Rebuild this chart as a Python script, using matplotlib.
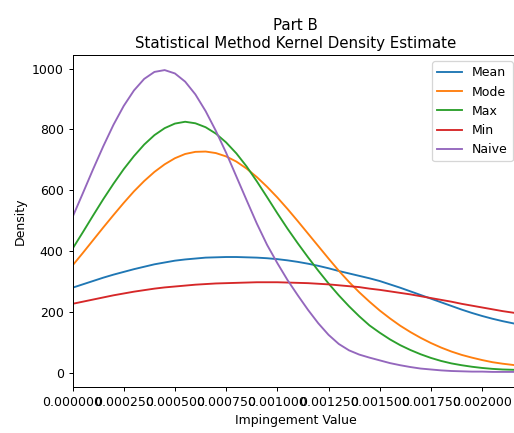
import matplotlib
matplotlib.use('Agg')
import matplotlib.pyplot as plt
from matplotlib.ticker import FormatStrFormatter

# impingement grid, step 0.00005
impingement = [i * 0.00005 for i in range(45)]

mean_density = [279, 290, 301, 312, 322, 331, 340, 348, 356, 362,
                368, 372, 375, 378, 379, 380, 380, 379, 378, 376,
                373, 369, 364, 358, 351, 343, 334, 326, 318, 310,
                301, 290, 279, 267, 255, 243, 231, 219, 207, 196,
                186, 177, 169, 162, 155]
mode_density = [352, 393, 435, 477, 518, 558, 596, 630, 660, 685,
                705, 719, 726, 727, 722, 711, 694, 671, 643, 611,
                576, 538, 498, 457, 416, 375, 335, 298, 264, 233,
                204, 178, 154, 133, 114, 97, 82, 69, 58, 49,
                41, 34, 29, 25, 21]
max_density = [407, 461, 516, 570, 621, 669, 712, 750, 781, 804,
               819, 825, 820, 807, 786, 757, 721, 678, 629, 577,
               524, 473, 425, 379, 335, 293, 254, 218, 185, 155,
               131, 109, 90, 74, 60, 48, 38, 30, 24, 19,
               15, 12, 10, 9, 8]
min_density = [226, 233, 240, 247, 254, 260, 266, 271, 276, 280,
               283, 286, 289, 291, 293, 294, 295, 296, 297, 297,
               297, 296, 295, 294, 292, 290, 287, 284, 281, 276,
               272, 267, 262, 257, 251, 245, 239, 233, 226, 220,
               214, 208, 202, 197, 192]
naive_density = [511, 589, 668, 744, 815, 877, 928, 966, 989, 995,
                 984, 957, 915, 860, 795, 723, 645, 567, 490, 420,
                 360, 304, 254, 206, 162, 124, 94, 73, 59, 49,
                 40, 31, 24, 18, 13, 10, 7, 5, 4, 3,
                 3, 2, 2, 2, 2]

series = [('Mean', mean_density), ('Mode', mode_density),
          ('Max', max_density), ('Min', min_density),
          ('Naive', naive_density)]

# the axes run a little past the right edge of the saved image
fig = plt.figure(figsize=(514 / 90, 433 / 90), dpi=90)
ax = fig.add_axes([72.5 / 514, 46 / 433, 446.5 / 514, 332 / 433])

for label, dens in series:
    ax.plot(impingement, dens, label=label)

ax.set_xlim(0, 0.00218)
ax.set_xticks([i * 0.00025 for i in range(9)])
ax.xaxis.set_major_formatter(FormatStrFormatter('%.6f'))
ax.set_title('Part B\nStatistical Method Kernel Density Estimate')
ax.set_xlabel('Impingement Value')
ax.set_ylabel('Density')
ax.legend(loc='upper right')

fig.savefig('out.png', dpi=90)
